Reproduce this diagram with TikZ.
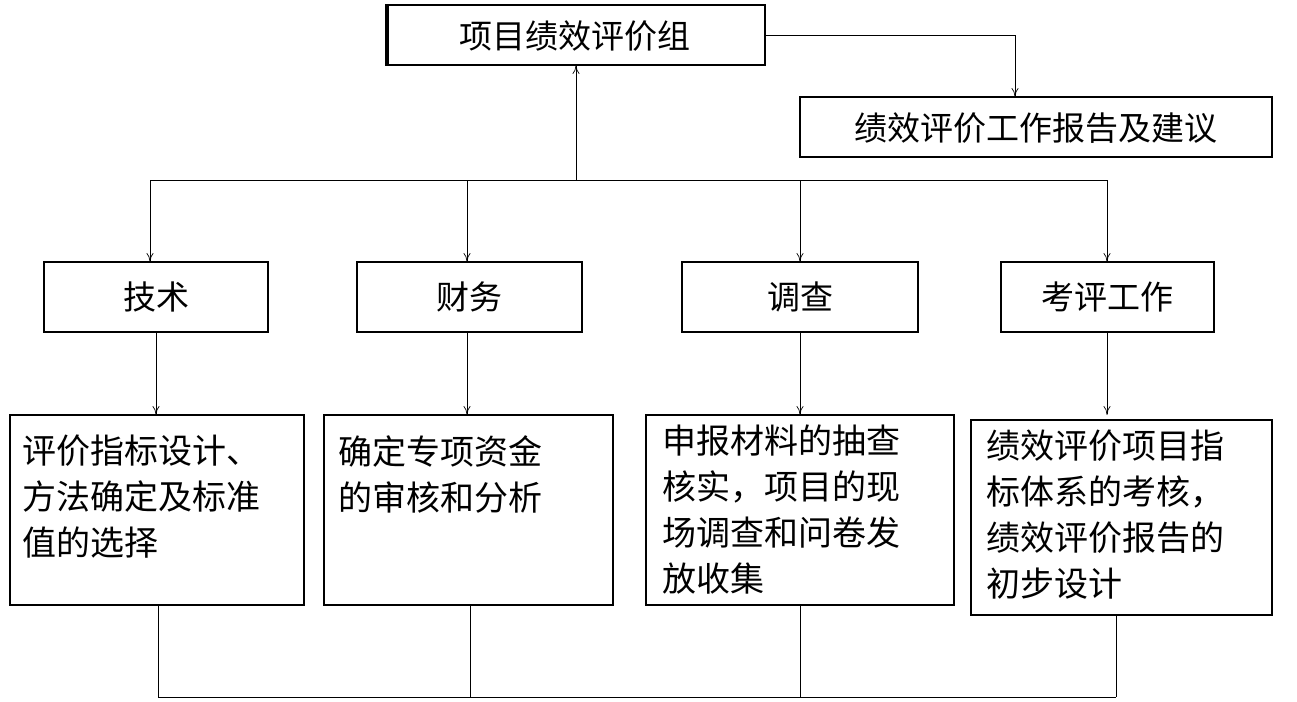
\documentclass[tikz,border=0pt]{standalone}
\usepackage{fontspec}
\setmainfont{Noto Sans CJK SC}
\usetikzlibrary{arrows.meta}
\begin{document}
\begin{tikzpicture}[x=1pt,y=-1pt,
 box/.style={draw,line width=1.3pt},
 lbl/.style={font=\fontsize{33}{40}\selectfont},
 para/.style={font=\fontsize{34}{46}\selectfont,align=left,anchor=north west,inner sep=0pt},
 arr/.style={-{To[length=9pt,width=7pt]},line width=0.7pt},
 ln/.style={line width=0.7pt}]
\useasboundingbox (0,0) rectangle (1297,701);
\draw[box] (386,5) rectangle (765,65);
\draw[line width=3pt] (387,5) -- (387,65);
\node[lbl] (top) at (575,36) {项目绩效评价组};
\draw[box] (800,97) rectangle (1272,157);
\node[lbl] (rep) at (1036,128) {绩效评价工作报告及建议};
\coordinate (tr) at (765,35);
\coordinate (tr2) at (1015,35);
\coordinate (rt) at (1015,97);
\draw[arr] (tr) -- (tr2) -- (rt);
\coordinate (hub) at (576,180);
\coordinate (tb) at (576,65);
\draw[arr] (hub) -- (tb);
\draw[ln] (150,180) -- (1107,180);
\foreach \x in {150,467,800,1107} \draw[arr] (\x,180) -- (\x,262);
\draw[box] (44,262) rectangle (268,332); \node[lbl] (a) at (156,297) {技术};
\draw[box] (357,262) rectangle (582,332); \node[lbl] (b) at (469,297) {财务};
\draw[box] (682,262) rectangle (918,332); \node[lbl] (c) at (800,297) {调查};
\draw[box] (1001,262) rectangle (1214,332); \node[lbl] (d) at (1107,297) {考评工作};
\foreach \x in {156,467,800,1107} \draw[arr] (\x,332) -- (\x,415);
\draw[box] (10,415) rectangle (304,605);
\node[para] (p1) at (22,435) {评价指标设计、\\方法确定及标准\\值的选择};
\draw[box] (324,415) rectangle (613,605);
\node[para] (p2) at (338,435) {确定专项资金\\的审核和分析};
\draw[box] (646,415) rectangle (954,605);
\node[para] (p3) at (662,425) {申报材料的抽查\\核实，项目的现\\场调查和问卷发\\放收集};
\draw[box] (971,420) rectangle (1272,615);
\node[para] (p4) at (986,430) {绩效评价项目指\\标体系的考核，\\绩效评价报告的\\初步设计};
\foreach \x/\y in {158/605,470/605,800/605,1116/615} \draw[ln] (\x,\y) -- (\x,697);
\draw[ln] (158,697) -- (1116,697);
\end{tikzpicture}
\end{document}
